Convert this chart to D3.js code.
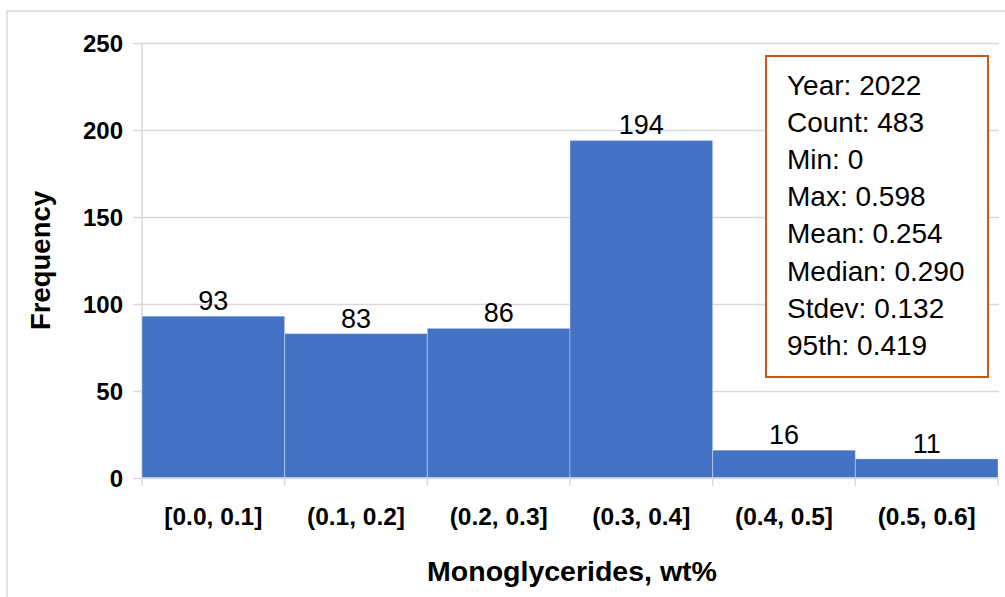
<!DOCTYPE html>
<html>
<head>
<meta charset="utf-8">
<script src="https://cdn.jsdelivr.net/npm/d3@7"></script>
<style>
  html, body { margin: 0; padding: 0; background: #fff; }
  svg { display: block; }
  text { font-family: "Liberation Sans", Arial, sans-serif; }
</style>
</head>
<body>
<svg id="chart" width="1005" height="597"></svg>
<script>
const categories = ["[0.0, 0.1]", "(0.1, 0.2]", "(0.2, 0.3]", "(0.3, 0.4]", "(0.4, 0.5]", "(0.5, 0.6]"];
const counts = [93, 83, 86, 194, 16, 11];
const yTicks = [0, 50, 100, 150, 200, 250];
const statLabels = ["Year", "Count", "Min", "Max", "Mean", "Median", "Stdev", "95th"];
const statValues = ["2022", "483", "0", "0.598", "0.254", "0.290", "0.132", "0.419"];
const xTitle = "Monoglycerides, wt%";
const yTitle = "Frequency";

const svg = d3.select("#chart");
const m = { left: 142, right: 998, top: 43, bottom: 478 };

// outer chart-area border
svg.append("rect")
  .attr("x", 7).attr("y", 11)
  .attr("width", 1010).attr("height", 600)
  .attr("fill", "#fff").attr("stroke", "#d9d9d9").attr("stroke-width", 1.5);

const x = d3.scaleBand().domain(categories).range([m.left, m.right]).padding(0);
const y = d3.scaleLinear().domain([0, 250]).range([m.bottom, m.top]);

// gridlines via axis
const gy = svg.append("g").attr("transform", `translate(${m.right + 1},0)`);
gy.call(d3.axisLeft(y).tickValues(yTicks).tickSize(m.right + 1 - 133).tickFormat(""));
gy.select(".domain").remove();
gy.selectAll(".tick line").attr("stroke", "#d9d9d9").attr("stroke-width", 1.5);

// y axis line
svg.append("line")
  .attr("x1", m.left).attr("x2", m.left)
  .attr("y1", m.top).attr("y2", m.bottom)
  .attr("stroke", "#d9d9d9").attr("stroke-width", 1.5);

// y tick labels
svg.append("g").selectAll("text").data(yTicks).join("text")
  .attr("x", 123).attr("y", d => y(d))
  .attr("dy", "0.36em")
  .attr("text-anchor", "end")
  .attr("font-size", 24).attr("font-weight", "bold").attr("fill", "#000")
  .text(d => d);

// bars
svg.append("g").selectAll("rect").data(counts).join("rect")
  .attr("x", (d, i) => x(categories[i]))
  .attr("y", d => y(d))
  .attr("width", x.bandwidth())
  .attr("height", d => y(0) - y(d))
  .attr("fill", "#4472C4")
  .attr("stroke", "#ffffff").attr("stroke-opacity", 0.35).attr("stroke-width", 1);

// x axis baseline + ticks
const gx = svg.append("g").attr("transform", `translate(0,${m.bottom})`);
const edges = categories.map(c => x(c)).concat([x(categories[categories.length - 1]) + x.bandwidth()]);
gx.append("line").attr("x1", m.left).attr("x2", m.right).attr("y1", 0).attr("y2", 0)
  .attr("stroke", "#d9d9d9").attr("stroke-width", 1.5);
gx.selectAll("line.tk").data(edges).join("line").attr("class", "tk")
  .attr("x1", d => d).attr("x2", d => d).attr("y1", 0).attr("y2", 8)
  .attr("stroke", "#d9d9d9").attr("stroke-width", 1.5);

// x tick labels
svg.append("g").selectAll("text").data(categories).join("text")
  .attr("x", d => x(d) + x.bandwidth() / 2)
  .attr("y", 525)
  .attr("text-anchor", "middle")
  .attr("font-size", 24.5).attr("font-weight", "bold").attr("fill", "#000")
  .text(d => d);

// data labels
svg.append("g").selectAll("text").data(counts).join("text")
  .attr("x", (d, i) => x(categories[i]) + x.bandwidth() / 2)
  .attr("y", d => y(d) - 6)
  .attr("text-anchor", "middle")
  .attr("font-size", 27).attr("fill", "#000")
  .text(d => d);

// axis titles
svg.append("text")
  .attr("x", (m.left + m.right) / 2 + 2).attr("y", 581)
  .attr("text-anchor", "middle")
  .attr("font-size", 28.5).attr("font-weight", "bold").attr("fill", "#000")
  .text(xTitle);

svg.append("text")
  .attr("transform", `translate(50,${(m.top + m.bottom) / 2}) rotate(-90)`)
  .attr("text-anchor", "middle")
  .attr("font-size", 27.5).attr("font-weight", "bold").attr("fill", "#000")
  .text(yTitle);

// stats box
svg.append("rect")
  .attr("x", 766).attr("y", 56)
  .attr("width", 222).attr("height", 321)
  .attr("fill", "#fff").attr("stroke", "#C55A11").attr("stroke-width", 2);

svg.append("g").selectAll("text").data(statLabels).join("text")
  .attr("x", 787)
  .attr("y", (d, i) => 95 + i * 37.1)
  .attr("font-size", 28).attr("fill", "#000")
  .text((d, i) => `${d}: ${statValues[i]}`);
</script>
</body>
</html>
